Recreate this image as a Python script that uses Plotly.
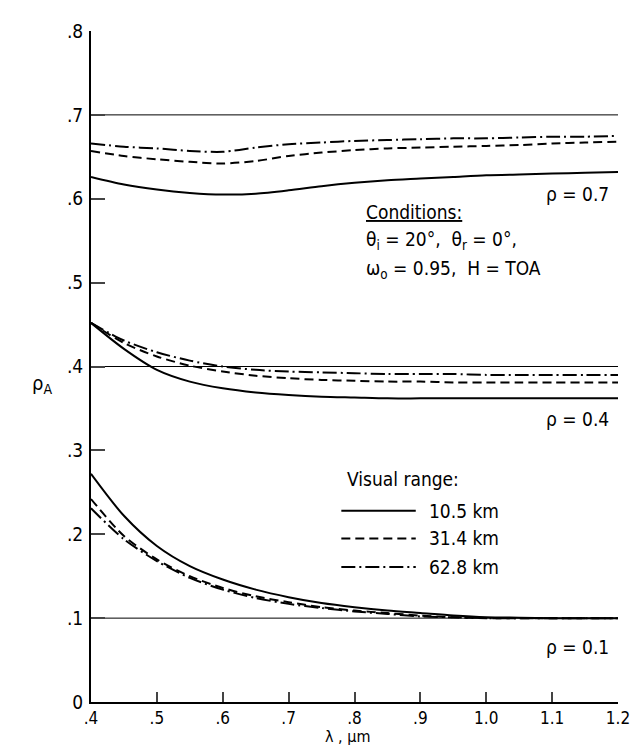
import plotly.graph_objects as go

wavelength = [0.4, 0.45, 0.5, 0.55, 0.6, 0.65, 0.7, 0.75, 0.8, 0.85, 0.9, 0.95, 1.0, 1.05, 1.1, 1.15, 1.2]

# rho = 0.7 group
r07_105 = [0.626, 0.617, 0.611, 0.607, 0.605, 0.606, 0.610, 0.615, 0.619, 0.622, 0.624, 0.626, 0.628, 0.629, 0.630, 0.631, 0.632]
r07_314 = [0.657, 0.651, 0.647, 0.644, 0.642, 0.645, 0.651, 0.655, 0.658, 0.660, 0.661, 0.662, 0.663, 0.664, 0.666, 0.667, 0.668]
r07_628 = [0.666, 0.662, 0.660, 0.657, 0.656, 0.661, 0.665, 0.667, 0.669, 0.670, 0.671, 0.672, 0.672, 0.673, 0.674, 0.674, 0.675]

# rho = 0.4 group
r04_105 = [0.452, 0.421, 0.396, 0.382, 0.374, 0.369, 0.366, 0.364, 0.363, 0.362, 0.362, 0.362, 0.362, 0.362, 0.362, 0.362, 0.362]
r04_314 = [0.452, 0.428, 0.412, 0.401, 0.394, 0.389, 0.386, 0.384, 0.383, 0.382, 0.382, 0.381, 0.381, 0.381, 0.381, 0.381, 0.381]
r04_628 = [0.452, 0.431, 0.417, 0.407, 0.400, 0.396, 0.394, 0.393, 0.392, 0.391, 0.391, 0.391, 0.390, 0.390, 0.390, 0.390, 0.390]

# rho = 0.1 group
r01_105 = [0.272, 0.222, 0.186, 0.162, 0.146, 0.134, 0.125, 0.118, 0.113, 0.109, 0.106, 0.103, 0.101, 0.1005, 0.100, 0.100, 0.100]
r01_314 = [0.242, 0.198, 0.170, 0.150, 0.136, 0.126, 0.119, 0.113, 0.109, 0.106, 0.103, 0.101, 0.100, 0.100, 0.100, 0.100, 0.100]
r01_628 = [0.231, 0.194, 0.168, 0.148, 0.134, 0.124, 0.117, 0.112, 0.108, 0.105, 0.102, 0.101, 0.100, 0.100, 0.100, 0.100, 0.100]

surface_albedo = [0.1, 0.4, 0.7]
surface_labels = ["ρ = 0.1", "ρ = 0.4", "ρ = 0.7"]
visual_ranges = ["10.5 km", "31.4 km", "62.8 km"]

x_ticks = [0.4, 0.5, 0.6, 0.7, 0.8, 0.9, 1.0, 1.1, 1.2]
x_ticktext = [".4", ".5", ".6", ".7", ".8", ".9", "1.0", "1.1", "1.2"]
y_ticks = [0, 0.1, 0.2, 0.3, 0.4, 0.5, 0.6, 0.7, 0.8]
y_ticktext = ["0", ".1", ".2", ".3", ".4", ".5", ".6", ".7", ".8"]

FONT = "Liberation Sans Narrow, DejaVu Sans Condensed, sans-serif"
TXT = dict(size=19, family=FONT, color="black")
dashes = ["solid", "9px,5px", "14px,4px,2px,4px"]

fig = go.Figure()

for a in surface_albedo:
    fig.add_trace(go.Scatter(x=[wavelength[0], wavelength[-1]], y=[a, a], mode="lines",
                             line=dict(color="black", width=1), showlegend=False, hoverinfo="skip"))

groups = [(r07_105, r07_314, r07_628), (r04_105, r04_314, r04_628), (r01_105, r01_314, r01_628)]
for g in groups:
    for series, d in zip(g, dashes):
        fig.add_trace(go.Scatter(x=wavelength, y=series, mode="lines",
                                 line=dict(color="black", width=2, dash=d, shape="spline", smoothing=0.8),
                                 showlegend=False, hoverinfo="skip"))

annotations = []
label_y = [0.066, 0.337, 0.606]
for lab, yy in zip(surface_labels, label_y):
    annotations.append(dict(x=1.19, y=yy, xref="x", yref="y", xanchor="right", text=lab,
                            showarrow=False, font=TXT))

cond_x = 0.815
annotations.append(dict(x=cond_x, y=0.584, xref="x", yref="y", xanchor="left", text="<u>Conditions:</u>",
                        showarrow=False, font=TXT))
annotations.append(dict(x=cond_x, y=0.550, xref="x", yref="y", xanchor="left",
                        text="θ<sub>i</sub> = 20°,  θ<sub>r</sub> = 0°,", showarrow=False, font=TXT))
annotations.append(dict(x=cond_x, y=0.516, xref="x", yref="y", xanchor="left",
                        text="ω<sub>o</sub> = 0.95,  H = TOA", showarrow=False, font=TXT))

annotations.append(dict(x=0.786, y=0.266, xref="x", yref="y", xanchor="left", text="Visual range:",
                        showarrow=False, font=TXT))
shapes = []
leg_y = [0.228, 0.195, 0.161]
for vr, yy, d in zip(visual_ranges, leg_y, dashes):
    shapes.append(dict(type="line", xref="x", yref="y", x0=0.78, x1=0.893, y0=yy, y1=yy,
                       line=dict(color="black", width=2, dash=d)))
    annotations.append(dict(x=0.91, y=yy, xref="x", yref="y", xanchor="left", text=vr,
                            showarrow=False, font=TXT))

annotations.append(dict(x=-0.115, y=0.379, xref="paper", yref="y", text="ρ<sub>A</sub>", showarrow=False,
                        font=dict(size=20, family=FONT, color="black")))
annotations.append(dict(x=0.79, y=-0.067, xref="x", yref="paper", yanchor="bottom", text="λ , μm",
                        showarrow=False, borderpad=0, font=dict(size=16, family=FONT, color="black")))

fig.update_layout(
    width=639, height=745,
    margin=dict(l=83, r=29, t=21, b=51),
    plot_bgcolor="white", paper_bgcolor="white",
    annotations=annotations, shapes=shapes,
    font=dict(family=FONT, color="black", size=19),
    showlegend=False,
)
fig.update_xaxes(range=[0.4, 1.2], tickvals=x_ticks, ticktext=x_ticktext, ticks="inside", ticklen=10,
                 tickwidth=1.5, showgrid=False, zeroline=False, showline=True, linecolor="black", linewidth=2,
                 tickfont=dict(size=17, family=FONT), ticklabelstandoff=0)
fig.update_yaxes(range=[0, 0.8], tickvals=y_ticks, ticktext=y_ticktext, ticks="inside", ticklen=14,
                 tickwidth=1.5, showgrid=False, zeroline=False, showline=True, linecolor="black", linewidth=2,
                 tickfont=dict(size=19, family=FONT), ticklabelstandoff=2)

fig.write_html("out.html")
